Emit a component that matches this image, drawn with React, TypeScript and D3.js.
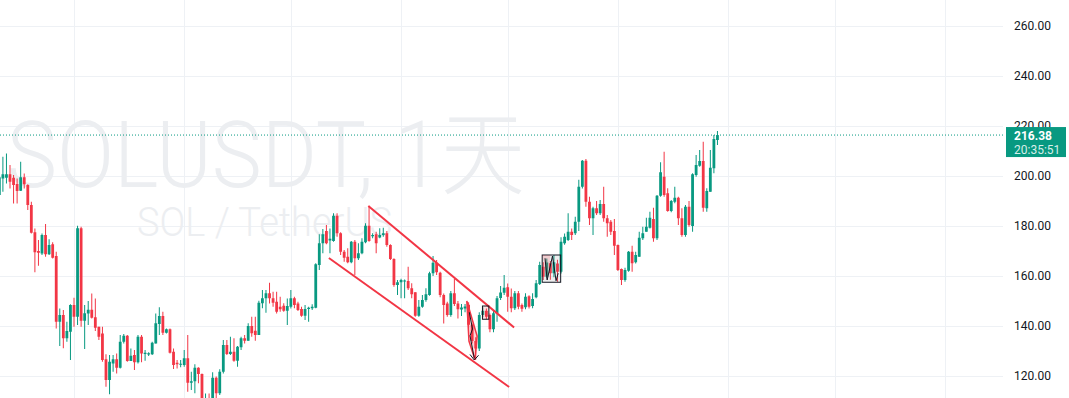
import React from "react";
import * as d3 from "d3";

const W = 1069;
const H = 398;
const PLOT_RIGHT = 1003;

// first candle date; one candle per day
const startDate = new Date(2025, 1, 8);

const open = [
  192.4,199,199.3,200.7,199.3,196.8,194.1,199.5,196.4,188.4,
  177.5,170,169,176.4,168.7,172.7,168,141.7,144.4,135.1,
  137.7,148.4,143.7,179.1,142.1,145,146.5,143.5,139.7,137,
  126.7,118.4,125,126.7,123.3,133.7,136.1,126,128.4,125.5,
  135.7,128.8,128.6,128.7,133,140.8,144,137.3,138.7,129.7,
  125.3,124.7,124.4,127.1,117.3,117.9,123.3,120.8,106,106.5,
  105,119.3,113.1,121.7,132.4,128.8,129.7,126.1,131.5,135.1,
  134.1,140,138.1,136.4,149.1,151.1,153.1,151.1,149.7,147.7,
  148.1,146.1,147.7,151.1,149,146.8,144.1,146.8,147.1,147.3,
  164.4,173.1,178,174.2,174,184.1,177.1,169.7,167.7,165.5,
  173.7,167.1,169.1,173.5,180.1,175.9,176.7,175.4,176.4,177.1,
  172.4,166.8,156.4,157.5,157.8,158,155.1,153.5,144.1,147.7,
  150.4,152.4,161.1,165.3,161.3,152.4,149,144.4,153.1,149,
  146.6,147,148.5,140.5,134,131,144.4,146.1,144.4,138.7,
  145.1,151.2,153.3,155.5,151.7,147.1,153.1,148.4,147.5,151.9,
  148,151.5,156.8,163.7,159.7,165.1,161.1,165,161.7,173.1,
  174.4,177.7,177.1,181.7,195.7,206.1,189.7,183.1,187.1,185.1,
  188.8,183.1,181.7,178,172.4,162.8,158.4,162.1,169.7,165.5,
  167.7,175.1,177.7,179.3,182.8,175.1,192.1,199.7,193.1,186,
  189.7,191.3,183.1,176.4,187.7,180,200.4,204.1,206,187.1,
  193.7,203.1,214.4,
];

const high = [
  207,207.7,209,204.4,200.4,199,205.7,201,196.7,189.7,
  179,174.4,177,180.8,174.7,173.5,169.7,147,146.4,141.7,
  148.7,151.3,180.1,179.7,148.4,150,153,151,139.7,139.7,
  128.7,128.4,128.4,129,136.4,136.8,136.4,131,130.4,136.4,
  136.4,130.4,129.5,133.7,145,147.5,145.7,139,139,131,
  126.4,126.4,130.4,136.4,121.7,124.7,123.5,121,113,113,
  121.5,119.8,122.7,134.4,134.4,135.7,135.1,132,135.7,136.4,
  141.1,143.7,143.7,150.1,154.4,154.4,157.3,153.7,153.7,151.7,
  149.1,151,154.4,151.7,149.7,147.7,148.4,147.7,148.7,165.1,
  176.7,178.8,180.4,179,185.1,185.1,177.5,170.4,171.1,174,
  174.4,173.1,175.1,181.1,188.1,177.1,177.7,179.1,179.3,178,
  172.7,167.1,158.4,158.9,158.6,163.7,157.1,153.5,150.4,152.4,
  155.1,161.7,168,166.4,161.7,153,149.7,154,158.8,150,
  148.8,148.8,149.5,141,135.5,145.5,147.5,147,145,146,
  152,156,160.4,157,155,154,154,149,153.1,152.3,
  153.1,158.4,165.7,165.5,167,166,168.4,166.5,175.5,177,
  185.1,179,183.7,198.5,206.4,206.8,191.7,187.7,190,190.4,
  195.7,184.4,182.4,182.8,172.6,163,163.3,170,172.1,169.7,
  177.7,179.7,183.3,185.7,187.3,192.4,205.5,209.7,195.1,190.4,
  195.7,191.7,187.1,188.4,190,201.1,208.4,210.4,213.7,195.1,
  210.4,216.4,218,
];

const low = [
  191,193.7,197,195,189,189,194,195,186.4,177,
  161.5,164.1,168.4,167.7,168.4,167,139,132,131.1,133.7,
  126.4,139.7,140.4,139.7,130.8,140.4,143,138,134.4,125.7,
  115.7,112.7,121.7,121,123,133,125.7,126,122.4,125,
  125.5,126.1,128,128.4,133,136.4,136.4,137,129,122.8,
  123,123.5,123.7,113.7,114.4,113.1,117.1,104,95,103,
  104,110,112.4,121,128.4,128.4,125.7,123.7,130.4,133,
  134.1,135.7,134.1,136.4,147.1,145.3,149,147.7,145,145.7,
  145.7,140.4,147,147.1,146,143.7,142.4,141.7,146.4,147.1,
  162.4,169.1,172.7,169.1,173.7,175.7,168.4,165.7,165.1,165.1,
  160.4,166.4,168.7,173.1,173.7,175.1,169.1,175.1,175.7,171.7,
  166.4,155.7,152.4,151.1,151.1,154.4,151.1,143.7,143.7,147.3,
  149.7,152.1,160,160.4,151.5,141,143.7,143.7,148,143,
  144,145.5,139,133,126.5,130,143.5,142.7,137.5,137.5,
  141.7,150.4,152.4,145.7,145.5,146.4,146.7,145.7,146.7,147,
  147.1,151.1,156.4,158.4,159,158.5,159.5,157.7,161,172.5,
  174,174.4,176.4,178,195,187.7,180.4,176.4,184.4,184.4,
  181.7,175.7,176.4,168.4,162,156.4,157.7,161.7,161.7,165,
  167.7,174.4,177.7,179,173.7,174.4,191.7,191.7,185.7,185.5,
  189.1,180.4,175.7,175.7,179.7,177.7,199.7,203.7,185.7,185.7,
  193.7,201.1,212.4,
];

const close = [
  199.5,200.7,200.7,197.7,196.4,194,199.5,196.7,188.4,177.3,
  169.5,169.3,176.4,168.7,172.4,167.3,141.7,144.4,135.1,138,
  148.4,143.7,179.1,142.1,145.1,146.5,143.3,139.3,135.7,126.4,
  118.4,125.7,126.7,123.3,133.7,136.1,126,128.1,125.5,135.7,
  129,129.3,129.1,133.3,141.1,144,137.3,138.7,129.3,124.4,
  124.7,124.9,127.1,117.3,117.9,123.3,120.8,106,106.5,105,
  119.3,113.1,121.7,132.4,128.8,129.7,126.1,131.7,135.1,134.1,
  140,137.1,136.4,149.3,151.1,153.1,151.1,149.3,145.7,146.7,
  146.1,148,151.1,148.4,146.4,144.1,146.8,147.3,147.7,164.7,
  173.1,176.7,173.1,174.9,184.1,177.1,169.7,167.3,165.5,173.7,
  167.1,169.1,173.7,180.1,174,176.4,173.1,176.4,177.1,172.4,
  166.8,156.4,157.5,158.4,158.2,155.1,152.7,144.1,147.7,150.4,
  152.7,161.1,165.3,161.5,152.4,148.4,144.4,153.1,148.8,146.7,
  147.4,147.8,140.5,134,131,144.4,146.1,143.7,138.7,145.1,
  151.1,153.4,155.3,151.7,147.1,153.1,147.7,146.9,151.7,147.7,
  150.8,157.1,164.4,159.7,165.4,161.1,165.5,161.7,173.7,175.7,
  177.7,176.4,181.7,195.7,206.1,189.7,183.1,187.1,185.1,188.8,
  183.1,181.1,177.7,172.1,162.4,158.4,162.4,169.7,165.1,168.4,
  175.3,177.1,179.7,183.3,175.1,192.1,201.5,192.4,186,190,
  191.3,183.1,176.4,187.7,180.4,200.7,204.4,206,187.3,194,
  203.3,214.8,216.38,
];

const priceTicks = [120, 140, 160, 180, 200, 220, 240, 260];
const lastPrice = 216.38;
const countdown = "20:35:51";
const titleText = "SOLUSDT, 1天";
const descText = "SOL / TetherUS";

// drawings, in [day index, price]
const channelUpper = [[103.8, 188.0], [144.8, 139.4]];
const channelLower = [[92.7, 167.2], [143.4, 115.6]];
const patternRed = [[131.5, 150], [134.4, 136], [133.8, 126.5], [132.1, 134]];
const patternBlack = [[132.2, 145.5], [133.1, 138.8], [132.4, 136.1], [133.6, 127.1]];
const patternArrow = [[132.4, 128.6], [133.6, 126.4], [134.8, 128.3]];
const boxSmall = [[135.9, 148], [137.7, 142.7]];
const boxLarge = [[152.7, 168.4], [157.9, 157.5]];
const boxLargeFill = [[152.7, 168.4], [155.0, 168.4], [154.1, 158.0]];
const boxLargeZig = [[153.5, 167.1], [154.1, 158.4], [155.6, 168], [156.6, 158.1], [157.2, 161.1]];

const GREEN = "#089981";
const RED = "#F23645";
const GRID = "#eef1f5";

export default function App() {
  const n = close.length;
  const x = d3.scaleLinear().domain([0, 202]).range([-0.66, 717.45]);
  const y = d3.scaleLinear().domain([120, 260]).range([376, 26]);

  const months = d3.timeMonth.range(new Date(2025, 2, 1), new Date(2025, 11, 1));
  const monthIdx = months.map((m) => d3.timeDay.count(startDate, m));

  const line = d3
    .line<number[]>()
    .x((d) => x(d[0]))
    .y((d) => y(d[1]));

  const bodyW = 2.8;
  const fmt = d3.format(".2f");
  const yl = y(lastPrice);

  return (
    <svg
      width={W}
      height={H}
      style={{ position: "absolute", left: 0, top: 0, background: "#fff" }}
    >
      <defs>
        <clipPath id="plot">
          <rect x={0} y={0} width={PLOT_RIGHT} height={H} />
        </clipPath>
      </defs>
      <rect x={0} y={0} width={W} height={H} fill="#fff" />
      <g clipPath="url(#plot)">
        {priceTicks.map((t) => (
          <line
            key={"h" + t}
            x1={0}
            x2={PLOT_RIGHT}
            y1={Math.round(y(t)) + 0.5}
            y2={Math.round(y(t)) + 0.5}
            stroke={GRID}
          />
        ))}
        {monthIdx.map((mi, k) => (
          <line
            key={"v" + k}
            x1={Math.round(x(mi)) + 0.5}
            x2={Math.round(x(mi)) + 0.5}
            y1={0}
            y2={H}
            stroke={GRID}
          />
        ))}
        <text
          x={7}
          y={187}
          fontFamily="Roboto, 'Noto Sans CJK SC', sans-serif"
          fontSize={92}
          fontWeight={300}
          fill="#eceef1"
          textLength={518}
          lengthAdjust="spacingAndGlyphs"
        >
          {titleText}
        </text>
        <text
          x={137}
          y={236}
          fontFamily="Roboto, sans-serif"
          fontSize={40}
          fontWeight={300}
          fill="#eceef1"
          textLength={255}
          lengthAdjust="spacingAndGlyphs"
        >
          {descText}
        </text>
        <line
          x1={0}
          x2={PLOT_RIGHT}
          y1={yl}
          y2={yl}
          stroke={GREEN}
          strokeWidth={1}
          strokeDasharray="1 2"
        />
        {d3.range(n).map((i) => {
          const up = close[i] >= open[i];
          const c = up ? GREEN : RED;
          const cx = x(i);
          const top = y(Math.max(open[i], close[i]));
          const bot = y(Math.min(open[i], close[i]));
          return (
            <g key={i}>
              <rect x={cx - 0.5} y={y(high[i])} width={1} height={y(low[i]) - y(high[i])} fill={c} />
              <rect x={cx - bodyW / 2} y={top} width={bodyW} height={Math.max(1, bot - top)} fill={c} />
            </g>
          );
        })}
        <path d={line(channelUpper) || ""} stroke={RED} strokeWidth={2} fill="none" />
        <path d={line(channelLower) || ""} stroke={RED} strokeWidth={2} fill="none" />
        <path
          d={(line(patternRed) || "") + "Z"}
          stroke={RED}
          strokeWidth={1.5}
          fill="rgba(242,54,69,0.2)"
        />
        <path d={line(patternBlack) || ""} stroke="#131722" strokeWidth={1} fill="none" />
        <path d={line(patternArrow) || ""} stroke="#131722" strokeWidth={1} fill="none" />
        <rect
          x={x(boxSmall[0][0])}
          y={y(boxSmall[0][1])}
          width={x(boxSmall[1][0]) - x(boxSmall[0][0])}
          height={y(boxSmall[1][1]) - y(boxSmall[0][1])}
          fill="rgba(242,54,69,0.15)"
          stroke="#131722"
          strokeWidth={1}
        />
        <rect
          x={x(boxLarge[0][0])}
          y={y(boxLarge[0][1])}
          width={x(boxLarge[1][0]) - x(boxLarge[0][0])}
          height={y(boxLarge[1][1]) - y(boxLarge[0][1])}
          fill="rgba(120,123,134,0.12)"
          stroke="#131722"
          strokeWidth={1}
        />
        <path d={(line(boxLargeFill) || "") + "Z"} fill="rgba(242,54,69,0.18)" stroke="none" />
        <path d={line(boxLargeZig) || ""} stroke="#131722" strokeWidth={1} fill="none" />
      </g>
      {priceTicks.map((t) => (
        <text
          key={"t" + t}
          x={1014}
          y={y(t)}
          dominantBaseline="central"
          fontFamily="Roboto, sans-serif"
          fontSize={12}
          fill="#131722"
        >
          {fmt(t)}
        </text>
      ))}
      <rect x={1006} y={yl - 8} width={60} height={30} fill={GREEN} />
      <text
        x={1014}
        y={yl + 1}
        dominantBaseline="central"
        fontFamily="Roboto, sans-serif"
        fontSize={12}
        fontWeight={700}
        fill="#fff"
      >
        {fmt(lastPrice)}
      </text>
      <text
        x={1014}
        y={yl + 14.5}
        dominantBaseline="central"
        fontFamily="Roboto, sans-serif"
        fontSize={12}
        fill="#fff"
        fillOpacity={0.85}
      >
        {countdown}
      </text>
    </svg>
  );
}
